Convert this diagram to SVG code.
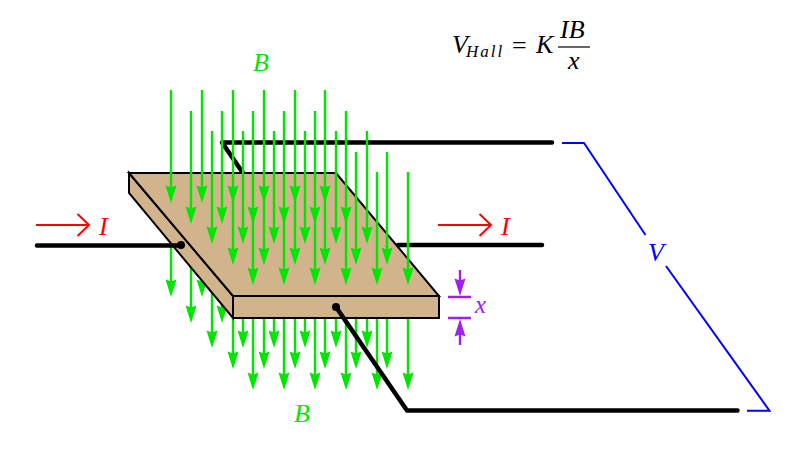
<svg xmlns="http://www.w3.org/2000/svg" width="811" height="453" viewBox="0 0 811 453">
<style>
text{font-family:"Liberation Serif","Times New Roman",serif;font-style:italic}
.g{stroke:#00e600;stroke-width:2.4;fill:none}
.w{stroke:#000;stroke-width:4.500;fill:none;stroke-linecap:round;stroke-linejoin:round}
.p{fill:#d2b48c;stroke:#000;stroke-width:2;stroke-linejoin:miter}
.r{stroke:#f00;stroke-width:2;fill:none}
.b{stroke:#00f;stroke-width:2;fill:none}
.v{stroke:#a020f0;stroke-width:2.4;fill:none}
.n{font-style:normal}
</style>
<defs>
<path id="h" d="M-5.500 -17.500L0 -15.500L5.500 -17.500L0 0Z" fill="#00e600"/>
<path id="ph" d="M-5.500 -17.500L0 -15.500L5.500 -17.500L0 0Z" fill="#a020f0"/>
</defs>
<g id="wire-top"><path class="w" d="M552 142.500H222L243 173"/></g>
<g id="wire-right"><path class="w" d="M398 245H542"/></g>
<g id="field-below">
<path class="g" d="M171 240V285M202 240V285M191 260V310M222 300V310M212 280V335M243 300V335M274 300V335M305 300V335M336 300V335M367 300V335M233 300V355M264 300V355M295 300V355M325 300V355M356 300V355M387 300V355M253 300V375M284 300V375M315 300V375M346 300V375M377 300V375M408 300V375"/>
<use href="#h" x="171" y="297"/><use href="#h" x="202" y="297"/>
<use href="#h" x="191" y="323"/><use href="#h" x="222" y="323"/>
<use href="#h" x="212" y="348"/><use href="#h" x="243" y="348"/><use href="#h" x="274" y="348"/><use href="#h" x="305" y="348"/><use href="#h" x="336" y="348"/><use href="#h" x="367" y="348"/>
<use href="#h" x="233" y="369"/><use href="#h" x="264" y="369"/><use href="#h" x="295" y="369"/><use href="#h" x="325" y="369"/><use href="#h" x="356" y="369"/><use href="#h" x="387" y="369"/>
<use href="#h" x="253" y="390"/><use href="#h" x="284" y="390"/><use href="#h" x="315" y="390"/><use href="#h" x="346" y="390"/><use href="#h" x="377" y="390"/><use href="#h" x="408" y="390"/>
</g>
<g id="plate">
<path class="p" d="M129 173L233 296V318L129 193Z"/>
<path class="p" d="M233 296H439V318H233Z"/>
<path class="p" d="M129 173H336L439 296H233Z"/>
</g>
<g id="field-above">
<path class="g" d="M171 90V195M202 90V195M233 90V195M264 90V195M295 90V195M325 90V195M191 111V216M222 111V216M253 111V216M284 111V216M315 111V216M346 111V216M212 131V236M243 131V236M274 131V236M305 131V236M336 131V236M367 131V236M233 152V257M264 152V257M295 152V257M325 152V257M356 152V257M387 152V257M253 172V277M284 172V277M315 172V277M346 172V277M377 172V277M408 172V277"/>
<use href="#h" x="171" y="203"/><use href="#h" x="202" y="203"/><use href="#h" x="233" y="203"/><use href="#h" x="264" y="203"/><use href="#h" x="295" y="203"/><use href="#h" x="325" y="203"/>
<use href="#h" x="191" y="224"/><use href="#h" x="222" y="224"/><use href="#h" x="253" y="224"/><use href="#h" x="284" y="224"/><use href="#h" x="315" y="224"/><use href="#h" x="346" y="224"/>
<use href="#h" x="212" y="244"/><use href="#h" x="243" y="244"/><use href="#h" x="274" y="244"/><use href="#h" x="305" y="244"/><use href="#h" x="336" y="244"/><use href="#h" x="367" y="244"/>
<use href="#h" x="233" y="265"/><use href="#h" x="264" y="265"/><use href="#h" x="295" y="265"/><use href="#h" x="325" y="265"/><use href="#h" x="356" y="265"/><use href="#h" x="387" y="265"/>
<use href="#h" x="253" y="285"/><use href="#h" x="284" y="285"/><use href="#h" x="315" y="285"/><use href="#h" x="346" y="285"/><use href="#h" x="377" y="285"/><use href="#h" x="408" y="285"/>
</g>
<g id="wires-front">
<path class="w" d="M37 245.500H181"/><circle cx="181" cy="245" r="4"/>
<path class="w" d="M336 307L407 410.500H737.500"/><circle cx="336" cy="307" r="4"/>
</g>
<g id="voltmeter-leads">
<path class="b" d="M562 143H584L645.500 235"/>
<path class="b" d="M666 266L769.500 410.700H747"/>
<text x="648" y="261" font-size="26" fill="#00f">V</text>
</g>
<g id="current-left">
<path class="r" d="M36 225H89M77.500 214L89 225L77.500 236"/>
<text x="99" y="235" font-size="26" fill="#f00">I</text>
</g>
<g id="current-right">
<path class="r" d="M438 225H491M479.500 214L491 225L479.500 236"/>
<text x="501" y="235" font-size="26" fill="#f00">I</text>
</g>
<g id="thickness">
<path class="v" d="M448 297H471M448 318H471M460 270V285M460 345V330"/>
<use href="#ph" x="460" y="296"/>
<use href="#ph" transform="translate(460 319) rotate(180)"/>
<text x="475" y="313" font-size="25" fill="#a020f0">x</text>
</g>
<g id="labels">
<text x="253" y="71" font-size="26" fill="#00e600">B</text>
<text x="294" y="422" font-size="26" fill="#00e600">B</text>
</g>
<g id="equation" fill="#000">
<text x="452" y="53" font-size="26">V</text>
<text x="466" y="57" font-size="17" letter-spacing="2">Hall</text>
<text x="512" y="54" font-size="26" class="n">=</text>
<text x="536" y="53" font-size="26">K</text>
<text x="560" y="38" font-size="26">IB</text>
<path d="M558 47H590" stroke="#000" stroke-width="1.200"/>
<text x="568" y="69" font-size="26">x</text>
</g>
</svg>
